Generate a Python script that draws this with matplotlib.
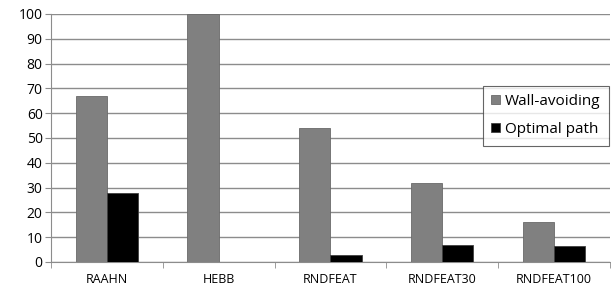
import numpy as np
import matplotlib
matplotlib.use('Agg')
import matplotlib.pyplot as plt

plt.rcParams['font.family'] = ['Open Sans', 'DejaVu Sans']

categories = ['RAAHN', 'HEBB', 'RNDFEAT', 'RNDFEAT30', 'RNDFEAT100']
wall_avoiding = [67, 100, 54, 32, 16]
optimal_path = [28, 0, 3, 7, 6.5]

fig = plt.figure(figsize=(6.11, 2.97), dpi=100)
ax = fig.add_axes([0.0835, 0.118, 0.9145, 0.835])

x = np.arange(len(categories))
w = 0.28
ax.bar(x - w / 2, wall_avoiding, w, color='#808080', edgecolor='#6a6a6a', linewidth=0.6,
       label='Wall-avoiding', zorder=3)
ax.bar(x + w / 2, optimal_path, w, color='#000000', edgecolor='#404040', linewidth=0.6,
       label='Optimal path', zorder=3)

ax.set_xlim(-0.5, len(categories) - 0.5)
ax.set_ylim(0, 100)
ax.set_yticks(range(0, 101, 10))
ax.yaxis.grid(True, color='#8c8c8c', linewidth=1.0, zorder=0)
ax.set_axisbelow(True)

ax.set_xticks(x)
ax.set_xticklabels(categories, fontsize=9)
ax.tick_params(axis='x', length=0, pad=8)
ax.set_xticks(np.arange(len(categories) + 1) - 0.5, minor=True)
ax.tick_params(axis='x', which='minor', length=4, color='#8c8c8c')
ax.tick_params(axis='y', labelsize=10, length=4, color='#8c8c8c', pad=2)

for s in ['top', 'right']:
    ax.spines[s].set_visible(False)
for s in ['left', 'bottom']:
    ax.spines[s].set_color('#8c8c8c')

leg = ax.legend(loc='upper right', bbox_to_anchor=(0.999, 0.71), fontsize=11,
                frameon=True, fancybox=False, handlelength=0.55, handleheight=0.55,
                handletextpad=0.35, borderpad=0.55, labelspacing=0.85, borderaxespad=0)
leg.get_frame().set_edgecolor('#404040')
leg.get_frame().set_linewidth(0.8)

fig.savefig('out.png', dpi=100)
